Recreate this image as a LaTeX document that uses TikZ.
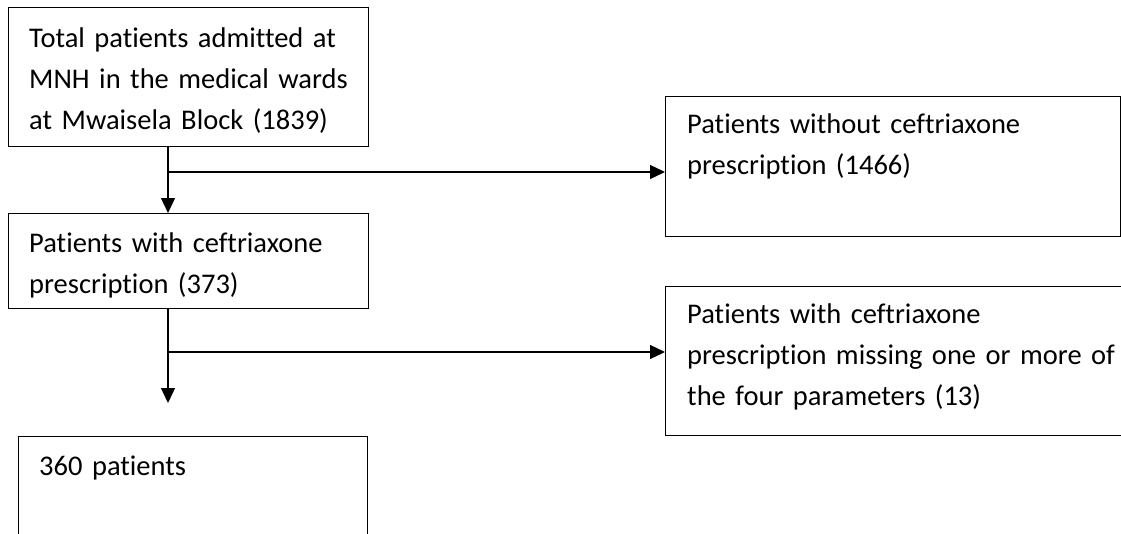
\documentclass[tikz,border=0pt]{standalone}
\usepackage{fontspec}
\setmainfont{Carlito}[Ligatures=NoCommon]
\usetikzlibrary{arrows.meta}
\newcommand{\boxfont}{\fontsize{28.5}{41}\selectfont}
\begin{document}
\begin{tikzpicture}[x=1pt,y=-1pt,
  box/.style={draw, line width=1.3pt, inner sep=0pt, anchor=north west},
  txt/.style={anchor=base west, align=left, inner sep=0pt, text width=500pt,
    font=\boxfont},
  arr/.style={line width=1.3pt, -{Triangle[length=15pt,width=14pt]}}]
\clip (0,0) rectangle (1121,533);
\useasboundingbox (0,0) rectangle (1121,533);
% boxes
\node[box, minimum width=360pt, minimum height=139pt] (b1) at (8,7) {};
\node[box, minimum width=360pt, minimum height=95pt] (b2) at (8,213) {};
\node[box, minimum width=349pt, minimum height=120pt] (b3) at (18,436) {};
\node[box, minimum width=455pt, minimum height=140pt] (b4) at (665,96) {};
\node[box, minimum width=470pt, minimum height=149pt] (b5) at (665,286) {};
% texts
\node[txt] (t1) at (29,47) {Total patients admitted at\\MNH in the medical wards\\at Mwaisela Block (1839)};
\node[txt] (t2) at (29,252) {Patients with ceftriaxone\\prescription (373)};
\node[txt] (t3) at (39,475) {360 patients};
\node[txt] (t4) at (687,133) {Patients without ceftriaxone\\prescription (1466)};
\node[txt] (t5) at (687,323) {Patients with ceftriaxone\\prescription missing one or more of\\the four parameters (13)};
% connectors
\coordinate (c1) at (168,172);
\coordinate (c2) at (168,352);
\coordinate (e) at (168,403);
\draw[arr] (b1.south -| c1) -- (b2.north -| c1);
\draw[arr] (c1) -- (c1 -| b4.west);
\draw[arr] (b2.south -| c2) -- (e);
\draw[arr] (c2) -- (c2 -| b5.west);
\end{tikzpicture}
\end{document}
